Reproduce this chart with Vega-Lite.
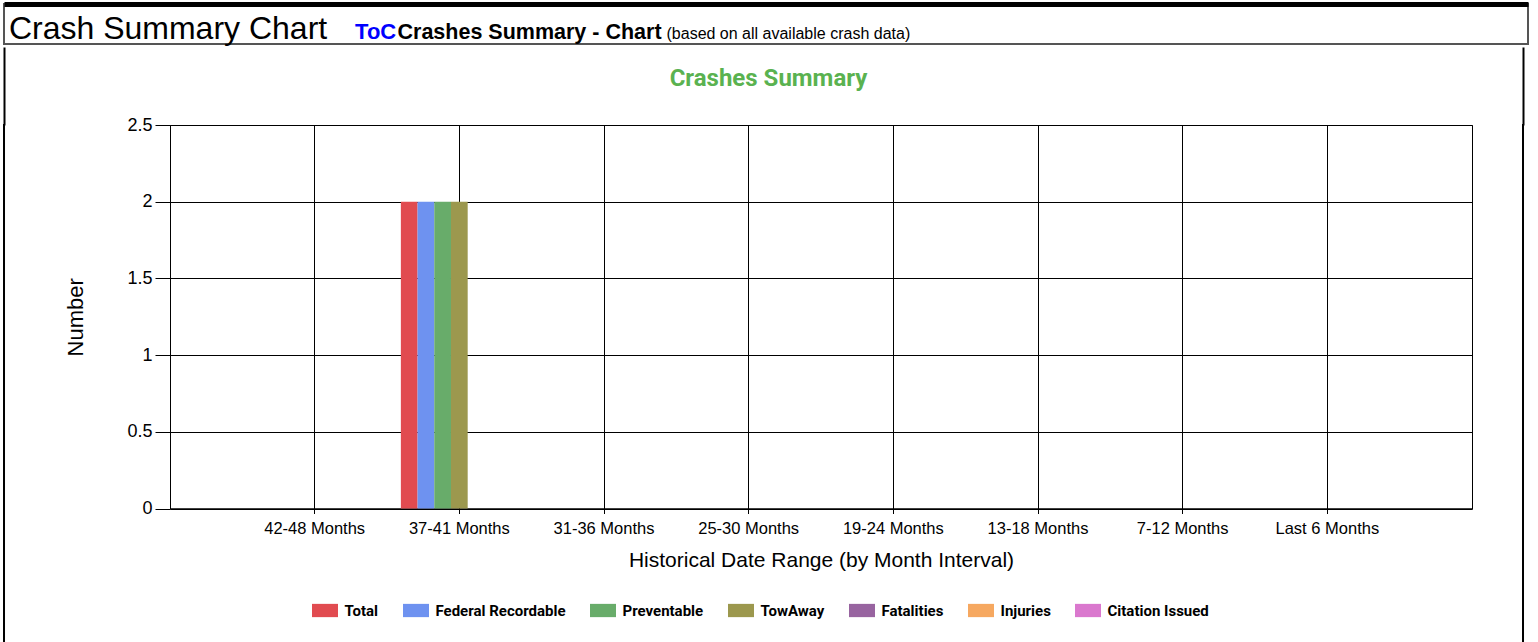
{
  "$schema": "https://vega.github.io/schema/vega-lite/v6.json",
  "background": "white",
  "padding": {"left": 2, "top": 3, "right": 0, "bottom": 0},
  "config": {"font": "Liberation Sans", "view": {"stroke": null}},
  "spacing": 0,
  "bounds": "full",
  "resolve": {"legend": {"color": "independent"}},
  "vconcat": [
    {
      "width": 1524,
      "height": 40,
      "view": {"stroke": "#555555", "strokeWidth": 2},
      "data": {"values": [{"v": 0}]},
      "resolve": {"scale": {"x": "independent", "y": "independent"}, "axis": {"x": "independent", "y": "independent"}},
      "layer": [
        {
          "mark": {"type": "point", "opacity": 0, "size": 0},
          "encoding": {
            "x": {"field": "v", "type": "quantitative", "scale": {"domain": [0, 1]},
              "axis": {"orient": "top", "title": "Crash Summary Chart", "domain": true, "domainColor": "#000000", "domainWidth": 5, "ticks": false, "labels": false, "grid": false,
                "titleFont": "Liberation Sans", "titleFontSize": 32, "titleFontWeight": "normal", "titleColor": "#000000", "titleAlign": "left", "titleBaseline": "alphabetic", "titleX": 4.4, "titleY": 34}},
            "y": {"field": "v", "type": "quantitative", "scale": {"domain": [0, 1]},
              "axis": {"orient": "left", "title": "ToC", "domain": false, "ticks": false, "labels": false, "grid": false,
                "titleFont": "Liberation Sans", "titleFontSize": 22, "titleFontWeight": "bold", "titleColor": "#0000FF", "titleAngle": 0, "titleAlign": "left", "titleBaseline": "alphabetic", "titleX": 350.6, "titleY": 34}}
          }
        },
        {
          "mark": {"type": "point", "opacity": 0, "size": 0},
          "encoding": {
            "x": {"field": "v", "type": "quantitative", "scale": {"domain": [0, 1]},
              "axis": {"orient": "bottom", "title": "(based on all available crash data)", "domain": false, "ticks": false, "labels": false, "grid": false,
                "titleFont": "Liberation Sans", "titleFontSize": 16, "titleFontWeight": "normal", "titleColor": "#000000", "titleAlign": "left", "titleBaseline": "alphabetic", "titleX": 662, "titleY": -6}},
            "y": {"field": "v", "type": "quantitative", "scale": {"domain": [0, 1]},
              "axis": {"orient": "right", "title": "Crashes Summary - Chart", "domain": false, "ticks": false, "labels": false, "grid": false,
                "titleFont": "Liberation Sans", "titleFontSize": 21.5, "titleFontWeight": "bold", "titleColor": "#000000", "titleAngle": 0, "titleAlign": "left", "titleBaseline": "alphabetic", "titleX": -1131, "titleY": 34}}
          }
        }
      ]
    },
    {
      "spacing": 0,
      "bounds": "full",
      "resolve": {"legend": {"color": "independent"}},
      "hconcat": [
        {"width": 0.01, "height": 520, "view": {"stroke": "#000000", "strokeWidth": 2}, "data": {"values": [{"v": 0}]}, "mark": {"type": "point", "size": 0, "opacity": 0},
          "encoding": {"x": {"field": "v", "type": "quantitative", "scale": {"domain": [0, 1]}, "axis": {"orient": "top", "values": [0], "ticks": true, "tickSize": 78, "tickWidth": 2, "tickColor": "#000000", "labels": false, "domain": false, "grid": false, "title": null}}}},
        {"width": 58, "height": 1, "data": {"values": [{}]}, "mark": {"type": "point", "size": 0, "opacity": 0}, "encoding": {}},
        {
          "width": 1302,
          "height": 383.5,
          "view": {"stroke": "#000000", "strokeWidth": 1},
          "title": {"text": ["", "Crashes Summary"], "font": "Roboto", "fontSize": 24, "fontWeight": "bold", "color": "#5AB250", "anchor": "middle", "frame": "bounds", "lineHeight": 18, "offset": 25},
          "data": {"values": [
            {"interval": "42-48 Months", "series": "Total", "value": 0},
            {"interval": "42-48 Months", "series": "Federal Recordable", "value": 0},
            {"interval": "42-48 Months", "series": "Preventable", "value": 0},
            {"interval": "42-48 Months", "series": "TowAway", "value": 0},
            {"interval": "42-48 Months", "series": "Fatalities", "value": 0},
            {"interval": "42-48 Months", "series": "Injuries", "value": 0},
            {"interval": "42-48 Months", "series": "Citation Issued", "value": 0},
            {"interval": "37-41 Months", "series": "Total", "value": 2},
            {"interval": "37-41 Months", "series": "Federal Recordable", "value": 2},
            {"interval": "37-41 Months", "series": "Preventable", "value": 2},
            {"interval": "37-41 Months", "series": "TowAway", "value": 2},
            {"interval": "37-41 Months", "series": "Fatalities", "value": 0},
            {"interval": "37-41 Months", "series": "Injuries", "value": 0},
            {"interval": "37-41 Months", "series": "Citation Issued", "value": 0},
            {"interval": "31-36 Months", "series": "Total", "value": 0},
            {"interval": "31-36 Months", "series": "Federal Recordable", "value": 0},
            {"interval": "31-36 Months", "series": "Preventable", "value": 0},
            {"interval": "31-36 Months", "series": "TowAway", "value": 0},
            {"interval": "31-36 Months", "series": "Fatalities", "value": 0},
            {"interval": "31-36 Months", "series": "Injuries", "value": 0},
            {"interval": "31-36 Months", "series": "Citation Issued", "value": 0},
            {"interval": "25-30 Months", "series": "Total", "value": 0},
            {"interval": "25-30 Months", "series": "Federal Recordable", "value": 0},
            {"interval": "25-30 Months", "series": "Preventable", "value": 0},
            {"interval": "25-30 Months", "series": "TowAway", "value": 0},
            {"interval": "25-30 Months", "series": "Fatalities", "value": 0},
            {"interval": "25-30 Months", "series": "Injuries", "value": 0},
            {"interval": "25-30 Months", "series": "Citation Issued", "value": 0},
            {"interval": "19-24 Months", "series": "Total", "value": 0},
            {"interval": "19-24 Months", "series": "Federal Recordable", "value": 0},
            {"interval": "19-24 Months", "series": "Preventable", "value": 0},
            {"interval": "19-24 Months", "series": "TowAway", "value": 0},
            {"interval": "19-24 Months", "series": "Fatalities", "value": 0},
            {"interval": "19-24 Months", "series": "Injuries", "value": 0},
            {"interval": "19-24 Months", "series": "Citation Issued", "value": 0},
            {"interval": "13-18 Months", "series": "Total", "value": 0},
            {"interval": "13-18 Months", "series": "Federal Recordable", "value": 0},
            {"interval": "13-18 Months", "series": "Preventable", "value": 0},
            {"interval": "13-18 Months", "series": "TowAway", "value": 0},
            {"interval": "13-18 Months", "series": "Fatalities", "value": 0},
            {"interval": "13-18 Months", "series": "Injuries", "value": 0},
            {"interval": "13-18 Months", "series": "Citation Issued", "value": 0},
            {"interval": "7-12 Months", "series": "Total", "value": 0},
            {"interval": "7-12 Months", "series": "Federal Recordable", "value": 0},
            {"interval": "7-12 Months", "series": "Preventable", "value": 0},
            {"interval": "7-12 Months", "series": "TowAway", "value": 0},
            {"interval": "7-12 Months", "series": "Fatalities", "value": 0},
            {"interval": "7-12 Months", "series": "Injuries", "value": 0},
            {"interval": "7-12 Months", "series": "Citation Issued", "value": 0},
            {"interval": "Last 6 Months", "series": "Total", "value": 0},
            {"interval": "Last 6 Months", "series": "Federal Recordable", "value": 0},
            {"interval": "Last 6 Months", "series": "Preventable", "value": 0},
            {"interval": "Last 6 Months", "series": "TowAway", "value": 0},
            {"interval": "Last 6 Months", "series": "Fatalities", "value": 0},
            {"interval": "Last 6 Months", "series": "Injuries", "value": 0},
            {"interval": "Last 6 Months", "series": "Citation Issued", "value": 0}
          ]},
          "mark": {"type": "bar"},
          "encoding": {
            "x": {"field": "interval", "type": "nominal", "sort": null,
              "scale": {"domain": ["42-48 Months", "37-41 Months", "31-36 Months", "25-30 Months", "19-24 Months", "13-18 Months", "7-12 Months", "Last 6 Months"], "paddingInner": 0, "paddingOuter": 0.5},
              "axis": {"title": "Historical Date Range (by Month Interval)", "labelAngle": 0, "grid": true, "gridColor": "#000000", "gridOpacity": 1, "gridWidth": 1, "bandPosition": 0.5,
                "domainColor": "#000000", "tickColor": "#000000", "tickSize": 5, "labelFont": "Liberation Sans", "labelFontSize": 16.5, "labelColor": "#000000", "labelPadding": 7,
                "titleFont": "Liberation Sans", "titleFontSize": 21, "titleFontWeight": "normal", "titleColor": "#000000", "titlePadding": 12}},
            "xOffset": {"field": "series", "type": "nominal", "sort": null,
              "scale": {"domain": ["Total", "Federal Recordable", "Preventable", "TowAway", "Fatalities", "Injuries", "Citation Issued"], "paddingInner": 0, "paddingOuter": 0.83}},
            "y": {"field": "value", "type": "quantitative", "stack": null,
              "scale": {"domain": [0, 2.5], "nice": false},
              "axis": {"title": "Number", "values": [0, 0.5, 1, 1.5, 2, 2.5], "format": "~g", "grid": true, "gridColor": "#000000", "gridOpacity": 1, "gridWidth": 1,
                "domainColor": "#000000", "tickColor": "#000000", "tickSize": 15, "labelFont": "Liberation Sans", "labelFontSize": 18, "labelColor": "#000000", "labelPadding": 3,
                "titleFont": "Liberation Sans", "titleFontSize": 22, "titleFontWeight": "normal", "titleColor": "#000000", "titlePadding": 39}},
            "color": {"field": "series", "type": "nominal", "sort": null,
              "scale": {"domain": ["Total", "Federal Recordable", "Preventable", "TowAway", "Fatalities", "Injuries", "Citation Issued"],
                "range": ["#E14B50", "#6E92F0", "#68AC6A", "#9C984E", "#9864A0", "#F6A860", "#DA78CE"]},
              "legend": {"orient": "none", "legendX": 142, "legendY": 472.5, "direction": "horizontal", "title": null, "symbolType": "M-1,-0.51H1V0.51H-1Z", "symbolSize": 676, "symbolStrokeWidth": 0, "symbolOpacity": 1,
                "labelFont": "Roboto", "labelFontSize": 15, "labelFontWeight": "bold", "labelColor": "#000000", "labelOffset": 6.5, "columnPadding": 24, "padding": 0}}
          }
        },
        {"width": 47.5, "height": 1, "data": {"values": [{}]}, "mark": {"type": "point", "size": 0, "opacity": 0}, "encoding": {}},
        {"width": 0.01, "height": 520, "view": {"stroke": "#000000", "strokeWidth": 2}, "data": {"values": [{"v": 0}]}, "mark": {"type": "point", "size": 0, "opacity": 0},
          "encoding": {"x": {"field": "v", "type": "quantitative", "scale": {"domain": [0, 1]}, "axis": {"orient": "top", "values": [0], "ticks": true, "tickSize": 78, "tickWidth": 2, "tickColor": "#000000", "labels": false, "domain": false, "grid": false, "title": null}}}}
      ]
    }
  ]
}
